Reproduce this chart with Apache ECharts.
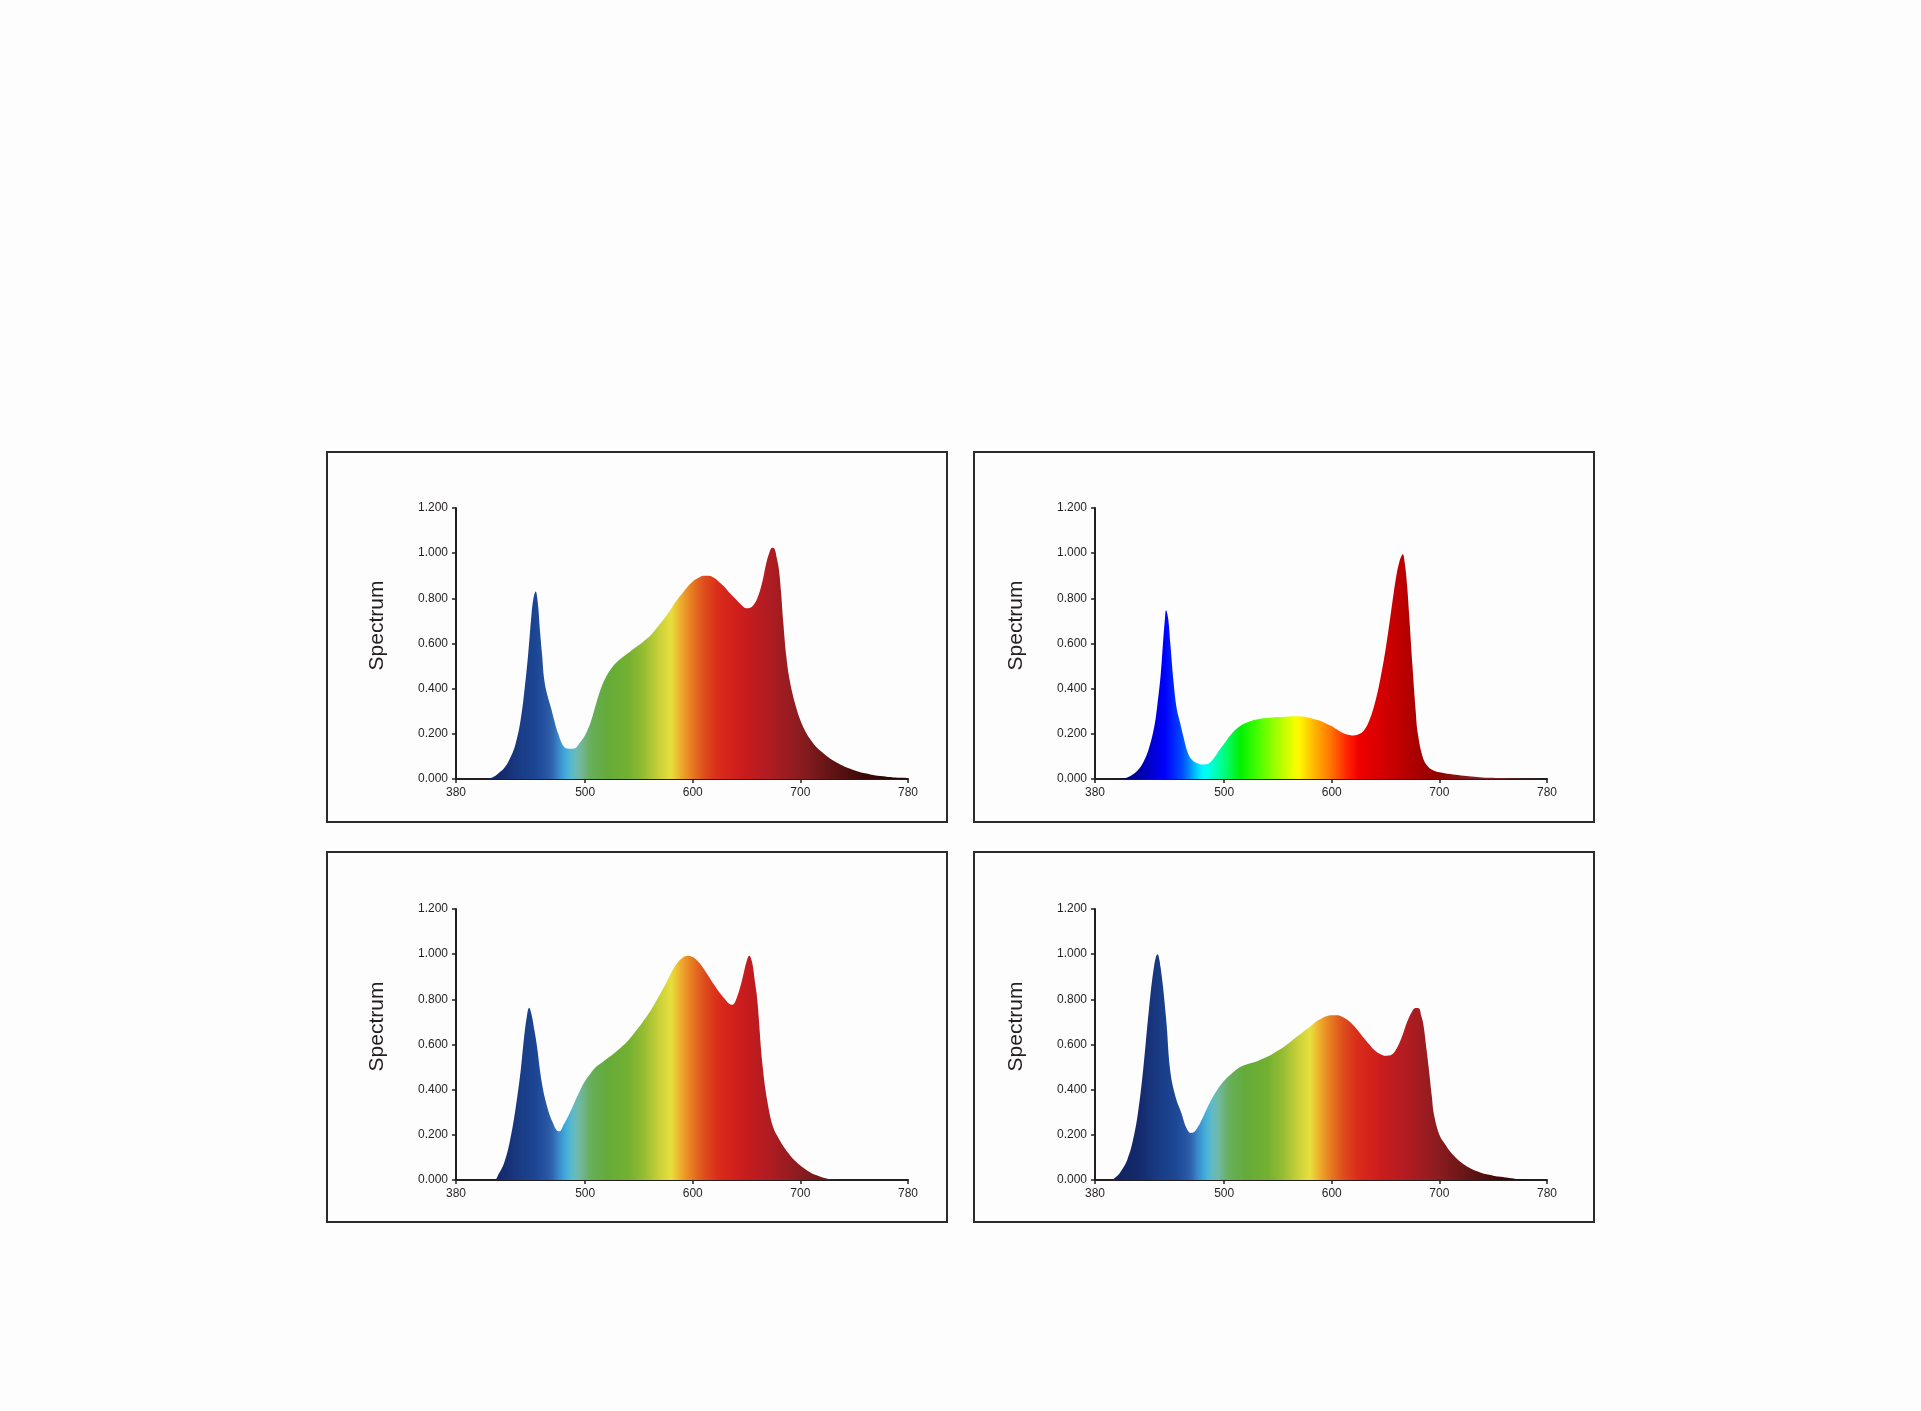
<!DOCTYPE html>
<html>
<head>
<meta charset="utf-8">
<script src="https://cdn.jsdelivr.net/npm/echarts@6/dist/echarts.min.js"></script>
<style>
  html, body { margin: 0; padding: 0; background: #fdfdfd; }
  #chart { width: 1921px; height: 1411px; }
</style>
</head>
<body>
<div id="chart"></div>
<script>
// ---------------- DATA ----------------
const yAxisName = 'Spectrum';
const xTickValues = [380, 500, 600, 700, 800];
const xTickLabels = ['380', '500', '600', '700', '780'];

// Panel A (top-left)
const wlA  = [380,405,410,415,420,425,430,435,440,444,447,450,452,454,456,458,460,462,465,468,471,475,480,485,490,495,500,505,510,515,520,525,530,535,540,545,550,555,560,565,570,575,580,585,590,595,600,605,610,615,620,625,630,635,640,645,650,655,660,665,668,671,674,676,678,680,682,684,687,690,695,700,705,710,715,720,725,730,735,740,745,750,755,760,765,770,775,780,785,790,795,800];
const valA = [0,0,0.002,0.01,0.028,0.05,0.09,0.15,0.26,0.41,0.55,0.72,0.80,0.83,0.78,0.66,0.55,0.44,0.37,0.32,0.265,0.20,0.145,0.134,0.135,0.16,0.195,0.25,0.33,0.405,0.457,0.494,0.52,0.54,0.558,0.576,0.593,0.612,0.632,0.66,0.69,0.72,0.755,0.79,0.82,0.85,0.875,0.89,0.90,0.90,0.89,0.87,0.848,0.82,0.796,0.772,0.756,0.763,0.80,0.88,0.95,1.0,1.024,1.02,0.98,0.93,0.83,0.70,0.54,0.44,0.335,0.26,0.208,0.17,0.141,0.12,0.10,0.083,0.07,0.058,0.048,0.039,0.031,0.025,0.02,0.016,0.013,0.01,0.008,0.006,0.005,0.004];

// Panel B (top-right)
const wlB  = [380,400,405,410,415,420,425,430,435,438,441,443,445,446,448,450,453,456,459,462,466,470,475,480,485,490,495,500,505,510,515,520,525,530,535,540,545,550,555,560,565,570,575,580,585,590,595,600,605,610,615,620,625,630,635,640,645,650,655,660,663,665,666,668,670,672,675,678,680,685,690,695,700,710,720,730,740,750,760,770,780,800];
const valB = [0,0,0.002,0.007,0.02,0.04,0.075,0.134,0.23,0.33,0.46,0.59,0.71,0.747,0.71,0.60,0.43,0.31,0.25,0.19,0.12,0.085,0.07,0.064,0.067,0.09,0.124,0.156,0.189,0.216,0.235,0.248,0.257,0.263,0.268,0.27,0.272,0.274,0.275,0.277,0.278,0.278,0.275,0.27,0.263,0.256,0.245,0.234,0.219,0.205,0.196,0.193,0.198,0.216,0.26,0.335,0.44,0.573,0.737,0.90,0.965,0.99,0.995,0.95,0.856,0.72,0.50,0.30,0.20,0.09,0.052,0.037,0.03,0.022,0.016,0.011,0.007,0.005,0.003,0.002,0.001,0];

// Panel C (bottom-left)
const wlC  = [380,415,420,425,430,435,440,443,446,448,450,453,455,460,465,470,474,476,480,485,490,495,500,505,510,515,520,525,530,535,540,545,550,555,560,565,570,575,580,585,590,595,600,605,610,615,620,625,630,635,637,640,645,650,652.5,655,658,660,665,670,675,680,685,690,695,700,705,710,715,720,725,730,735,740,800];
const valC = [0,0,0.03,0.08,0.17,0.305,0.48,0.62,0.73,0.763,0.737,0.66,0.60,0.424,0.32,0.253,0.218,0.216,0.245,0.29,0.342,0.394,0.44,0.472,0.50,0.518,0.536,0.553,0.573,0.594,0.618,0.647,0.677,0.71,0.744,0.784,0.826,0.87,0.918,0.957,0.982,0.993,0.987,0.967,0.937,0.90,0.863,0.829,0.80,0.777,0.776,0.796,0.87,0.967,0.993,0.967,0.87,0.796,0.50,0.33,0.23,0.183,0.144,0.112,0.085,0.064,0.046,0.031,0.021,0.012,0.006,0.003,0.001,0,0];

// Panel D (bottom-right)
const wlD  = [380,394,400,405,410,415,420,425,430,435,438,441,446,450,455,460,465,469,472,475,480,485,490,495,500,505,510,515,520,525,530,535,540,545,550,555,560,565,570,575,580,585,590,595,600,605,610,615,620,625,630,635,640,645,650,655,660,665,670,675,678,681,683,685,688,690,693,695,700,705,710,715,720,725,730,735,740,745,750,755,760,765,770,775,780,785,790,800];
const valD = [0,0,0.015,0.045,0.09,0.17,0.30,0.50,0.75,0.95,1.0,0.94,0.72,0.48,0.365,0.30,0.23,0.208,0.212,0.23,0.275,0.327,0.372,0.41,0.44,0.463,0.484,0.50,0.51,0.518,0.525,0.536,0.546,0.558,0.573,0.588,0.606,0.625,0.643,0.662,0.68,0.70,0.714,0.725,0.729,0.729,0.722,0.707,0.685,0.658,0.628,0.60,0.573,0.558,0.55,0.553,0.58,0.632,0.70,0.75,0.762,0.76,0.73,0.692,0.58,0.50,0.37,0.29,0.20,0.16,0.126,0.10,0.079,0.0625,0.049,0.039,0.03,0.024,0.019,0.015,0.012,0.009,0.006,0.004,0.002,0.001,0,0];

// ---------------- STYLE ----------------
// wavelength colour ramps (style only)
const naturalRamp = [
  [380, '#0f1f58'], [420, '#14296a'], [440, '#193c86'], [455, '#1c4794'], [468, '#2b5ba6'],
  [476, '#3c8ccc'], [482, '#3caee0'], [488, '#62bccc'], [495, '#70b8a0'], [505, '#68ae5a'],
  [520, '#64ab3a'], [540, '#72b031'], [555, '#98bd33'], [568, '#c6cf38'], [580, '#e8e03c'],
  [588, '#eeb02c'], [598, '#e88022'], [610, '#de4e1c'], [625, '#d92a1a'], [645, '#cc1c1c'],
  [670, '#b01c22'], [700, '#8a1c20'], [730, '#601414'], [760, '#3e0808'], [800, '#200404']
];
const vividRamp = [
  [380, '#000050'], [410, '#00007a'], [430, '#0000c8'], [445, '#0000ff'], [462, '#0050ff'],
  [478, '#00f0ff'], [482, '#00ffff'], [498, '#00ff90'], [515, '#00f000'], [530, '#40ff00'],
  [550, '#a8ff00'], [568, '#ffff00'], [585, '#ffb000'], [600, '#ff7000'], [615, '#ff2000'],
  [625, '#f00000'], [650, '#d00000'], [680, '#a80000'], [700, '#900000'], [730, '#802020'],
  [800, '#703030']
];

function hexToRgb(h) { return [1,3,5].map(i => parseInt(h.substr(i, 2), 16)); }
function rampColors(ramp, lo, hi, n) {
  const out = [];
  for (let k = 0; k < n; k++) {
    const w = lo + (hi - lo) * k / (n - 1);
    let j = 0;
    while (j < ramp.length - 2 && w > ramp[j + 1][0]) j++;
    const a = ramp[j], b = ramp[j + 1];
    const t = Math.max(0, Math.min(1, (w - a[0]) / (b[0] - a[0])));
    const ca = hexToRgb(a[1]), cb = hexToRgb(b[1]);
    const c = ca.map((v, i) => Math.round(v + (cb[i] - v) * t));
    out.push('rgb(' + c.join(',') + ')');
  }
  return out;
}

const FONT = '"Liberation Sans", Arial, Helvetica, sans-serif';
const INK = '#231f20';

const panels = [
  { wl: wlA, val: valA, ramp: naturalRamp, grid: { left: 456, top: 508, width: 452, height: 271 }, box: [327, 452, 620, 370] },
  { wl: wlB, val: valB, ramp: vividRamp,   grid: { left: 1095, top: 508, width: 452, height: 271 }, box: [974, 452, 620, 370] },
  { wl: wlC, val: valC, ramp: naturalRamp, grid: { left: 456, top: 909, width: 452, height: 271 }, box: [327, 852, 620, 370] },
  { wl: wlD, val: valD, ramp: naturalRamp, grid: { left: 1095, top: 909, width: 452, height: 271 }, box: [974, 852, 620, 370] }
];

const option = {
  backgroundColor: '#fdfdfd',
  animation: false,
  grid: [], xAxis: [], yAxis: [], series: [], visualMap: [], graphic: []
};

panels.forEach((p, i) => {
  option.grid.push(Object.assign({ containLabel: false }, p.grid));
  option.xAxis.push({
    type: 'value', gridIndex: i, min: 380, max: 800,
    axisLine: { show: true, onZero: false, lineStyle: { color: INK, width: 2 } },
    axisTick: { show: true, length: 4, customValues: xTickValues, lineStyle: { color: INK, width: 1.5 } },
    axisLabel: {
      customValues: xTickValues, margin: 8, fontSize: 12, color: INK, fontFamily: FONT,
      formatter: v => { const k = xTickValues.indexOf(v); return k >= 0 ? xTickLabels[k] : ''; }
    },
    splitLine: { show: false }
  });
  option.yAxis.push({
    type: 'value', gridIndex: i, min: 0, max: 1.2, interval: 0.2,
    name: yAxisName, nameLocation: 'middle', nameGap: 68,
    nameTextStyle: { fontSize: 21, color: INK, fontFamily: FONT, padding: [0, 0, 0, 36] },
    axisLine: { show: true, lineStyle: { color: INK, width: 2 } },
    axisTick: { show: true, length: 4, lineStyle: { color: INK, width: 1.5 } },
    axisLabel: { margin: 8, fontSize: 12, color: INK, fontFamily: FONT, formatter: v => v.toFixed(3) },
    splitLine: { show: false }
  });
  option.series.push({
    type: 'line', xAxisIndex: i, yAxisIndex: i,
    data: p.wl.map((w, k) => [w, p.val[k]]),
    smooth: 0.4, showSymbol: false, silent: true,
    lineStyle: { width: 0 },
    areaStyle: { opacity: 1 }
  });
  option.visualMap.push({
    type: 'continuous', show: false, seriesIndex: i, dimension: 0,
    min: 380, max: 800, inRange: { color: rampColors(p.ramp, 380, 800, 85) }
  });
  option.graphic.push({
    type: 'rect', silent: true, z: 10,
    shape: { x: p.box[0], y: p.box[1], width: p.box[2], height: p.box[3] },
    style: { fill: 'none', stroke: '#2b2b2b', lineWidth: 2 }
  });
});

const chart = echarts.init(document.getElementById('chart'), null, { renderer: 'canvas' });
chart.setOption(option);
</script>
</body>
</html>
